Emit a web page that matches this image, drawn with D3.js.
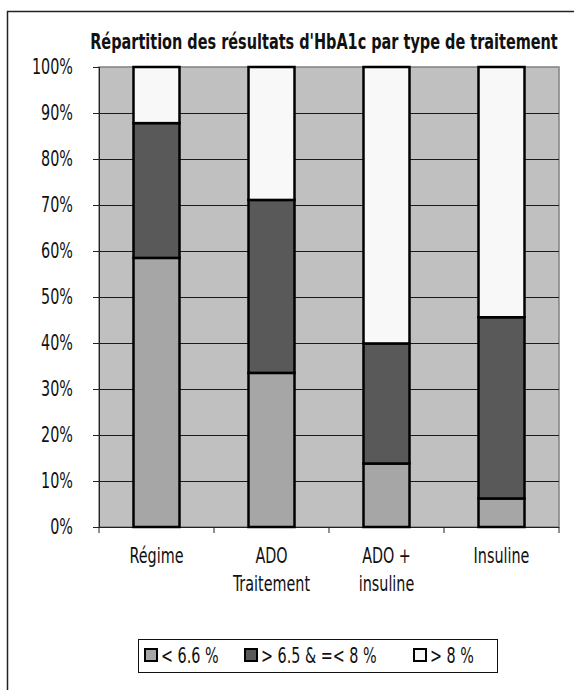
<!DOCTYPE html>
<html>
<head>
<meta charset="utf-8">
<script src="https://cdn.jsdelivr.net/npm/d3@7"></script>
<style>
  html, body { margin: 0; padding: 0; background: #fff; }
  svg { display: block; }
  text { font-family: "DejaVu Sans Condensed", "Liberation Sans Narrow", "Arial Narrow", sans-serif; fill: #111; }
</style>
</head>
<body>
<svg id="chart" width="574" height="690"></svg>
<script>
// HbA1c distribution by treatment type (percent of patients)
const categories = ["Régime", "ADO Traitement", "ADO + insuline", "Insuline"];
const categoryLines = [["Régime"], ["ADO", "Traitement"], ["ADO +", "insuline"], ["Insuline"]];
const seriesNames = ["< 6.6 %", "> 6.5 & =< 8 %", "> 8 %"];
const lowValues  = [58.5, 33.5, 13.8, 6.2];
const midValues  = [29.3, 37.6, 26.1, 39.4];
const highValues = [12.2, 28.9, 60.1, 54.4];
const yTicks = [0, 10, 20, 30, 40, 50, 60, 70, 80, 90, 100];
const seriesColors = ["#a6a6a6", "#595959", "#f8f8f8"];

const rows = categories.map((c, i) => ({
  cat: c, low: lowValues[i], mid: midValues[i], high: highValues[i]
}));

const svg = d3.select("#chart");
const m = { left: 99, top: 67, right: 559, bottom: 527 };
const narrow = 0.76; // horizontal squeeze for a tall, condensed look

// place a text at (x, y) squeezed horizontally around its anchor
function squeezed(parent, px, py, str, size, anchor, sx, bold) {
  return parent.append("text")
    .attr("transform", `translate(${px},${py}) scale(${sx},1)`)
    .attr("text-anchor", anchor)
    .attr("font-size", size)
    .attr("font-weight", bold ? "bold" : null)
    .text(str);
}

// outer frame (extends beyond the page on the right and bottom)
svg.append("rect")
  .attr("x", 7.5).attr("y", 11.5).attr("width", 600).attr("height", 700)
  .attr("fill", "none").attr("stroke", "#222").attr("stroke-width", 1.5);

const x = d3.scaleBand().domain(categories).range([m.left, m.right]).paddingInner(0.6).paddingOuter(0.3);
const xb = d3.scaleBand().domain(categories).range([m.left, m.right]);
const y = d3.scaleLinear().domain([0, 100]).range([m.bottom, m.top]);

// plot area background
svg.append("rect")
  .attr("x", m.left).attr("y", m.top)
  .attr("width", m.right - m.left).attr("height", m.bottom - m.top)
  .attr("fill", "#c0c0c0").attr("stroke", "#808080").attr("stroke-width", 1.5);

// horizontal gridlines
svg.append("g").selectAll("line").data(yTicks.filter(t => t > 0 && t < 100)).join("line")
  .attr("x1", m.left).attr("x2", m.right)
  .attr("y1", d => Math.round(y(d)) + 0.5).attr("y2", d => Math.round(y(d)) + 0.5)
  .attr("stroke", "#1a1a1a").attr("stroke-width", 1);

// y axis
const yAxis = d3.axisLeft(y).tickValues(yTicks).tickFormat("").tickSize(6);
const gy = svg.append("g").attr("transform", `translate(${m.left},0)`).call(yAxis);
gy.select(".domain").attr("stroke", "#222");
gy.selectAll(".tick line").attr("stroke", "#222");
yTicks.forEach(t => squeezed(svg, 73, y(t) + 7, t + "%", 21, "end", narrow, false));

// x axis (ticks at category boundaries)
const gx = svg.append("g");
gx.append("line").attr("x1", m.left - 6).attr("x2", m.right)
  .attr("y1", m.bottom + 0.5).attr("y2", m.bottom + 0.5).attr("stroke", "#222");
const bounds = categories.map(c => xb(c)).concat([m.right]);
gx.selectAll("line.tk").data(bounds).join("line").attr("class", "tk")
  .attr("x1", d => d).attr("x2", d => d)
  .attr("y1", m.bottom).attr("y2", m.bottom + 6).attr("stroke", "#222");

categoryLines.forEach((lines, i) => {
  const cx = xb(categories[i]) + xb.bandwidth() / 2;
  lines.forEach((ln, j) => squeezed(gx, cx, m.bottom + 36 + j * 28, ln, 21, "middle", narrow, false));
});

// stacked bars
const stack = d3.stack().keys(["low", "mid", "high"]);
const stacked = stack(rows);
svg.append("g").selectAll("g").data(stacked).join("g")
  .attr("fill", (d, i) => seriesColors[i])
  .selectAll("rect").data(d => d).join("rect")
  .attr("x", d => x(d.data.cat))
  .attr("y", d => y(d[1]))
  .attr("width", x.bandwidth())
  .attr("height", d => y(d[0]) - y(d[1]))
  .attr("stroke", "#000").attr("stroke-width", 2.5);

// title, squeezed to fit the plot width
const title = squeezed(svg, 324, 49, "Répartition des résultats d'HbA1c par type de traitement", 21, "middle", 1, true);
const tw = title.node().getComputedTextLength();
title.attr("transform", `translate(324,49) scale(${468 / tw},1)`);

// legend
const lg = svg.append("g");
lg.append("rect").attr("x", 138.5).attr("y", 639.5).attr("width", 359).attr("height", 33)
  .attr("fill", "#fff").attr("stroke", "#111").attr("stroke-width", 1);
const legendX = [145, 245, 414];
seriesNames.forEach((name, i) => {
  lg.append("rect").attr("x", legendX[i]).attr("y", 649).attr("width", 12).attr("height", 12)
    .attr("fill", seriesColors[i]).attr("stroke", "#000").attr("stroke-width", 2);
  squeezed(lg, legendX[i] + 16, 663, name, 21, "start", narrow, false);
});
</script>
</body>
</html>
